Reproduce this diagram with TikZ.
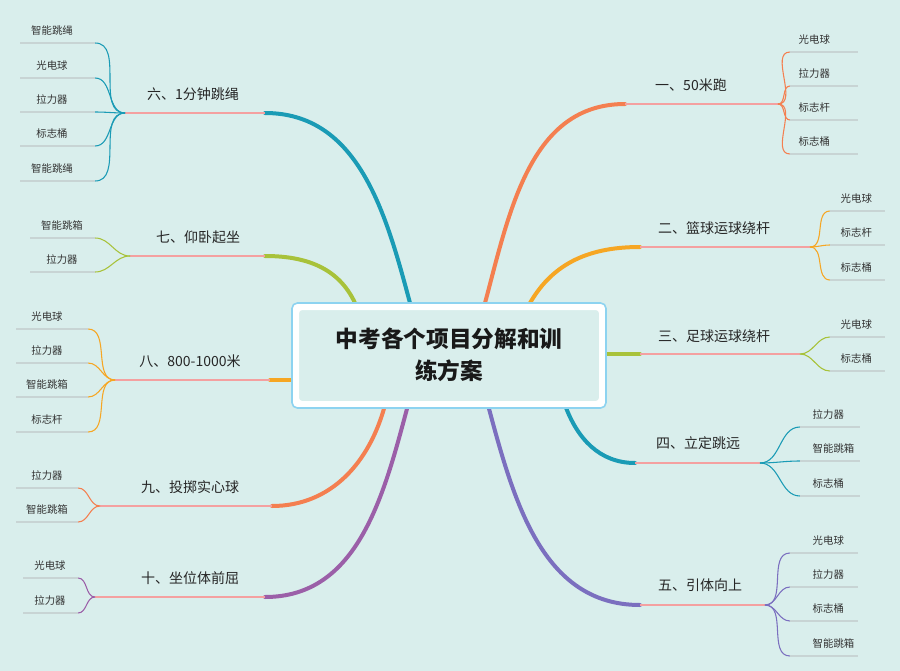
\documentclass[tikz,border=0pt]{standalone}
\usepackage{fontspec}
\setmainfont{Noto Sans CJK SC}
\usetikzlibrary{calc}
\definecolor{bg}{HTML}{D9EEEC}
\definecolor{cor}{HTML}{F47F50}
\definecolor{cyl}{HTML}{F6A623}
\definecolor{cgr}{HTML}{A8C23A}
\definecolor{ctl}{HTML}{1A9BB5}
\definecolor{cpu}{HTML}{7B6FBF}
\definecolor{cpm}{HTML}{9B5FA8}
\definecolor{pk}{HTML}{F4A0A0}
\definecolor{gl}{HTML}{C8D4D4}
\definecolor{cbord}{HTML}{8DD3F0}
\tikzset{
 trunk/.style={line width=3pt,line cap=round},
 under/.style={pk,line width=1.5pt},
 leafc/.style={line width=0.8pt},
 gline/.style={gl,line width=0.8pt},
 lab/.style={font=\fontsize{10.5}{12}\selectfont,text=black!85},
 leaf/.style={font=\fontsize{7.8}{9}\selectfont,text=black!80,anchor=west},
 leafl/.style={font=\fontsize{7.8}{9}\selectfont,text=black!80}
}
\begin{document}
\begin{tikzpicture}[x=0.75pt,y=-0.75pt]
\fill[bg] (0,0) rectangle (900,671);
\useasboundingbox (0,0) rectangle (900,671);
% ---- right side
% 1
\coordinate (s1) at (485,303); \coordinate (a1) at (625,104); \coordinate (e1) at (778,104);
\draw[trunk,cor] (s1) to[out=75,in=180] (a1);
\draw[under] (a1) -- (e1);
\node[lab] (b1) at (691,85) {一、50米跑};
\foreach \t/\y [count=\i] in {光电球/52,拉力器/86,标志杆/120,标志桶/154}{
 \coordinate (p1\i) at (790,\y);
 \draw[leafc,cor] (e1) to[out=0,in=180] (p1\i);
 \draw[gline] (p1\i) -- ++(68,0);
 \node[leaf] (n1\i) at ($(p1\i)+(4,-12)$) {\t};}
% 2
\coordinate (s2) at (530,303); \coordinate (a2) at (640,247); \coordinate (e2) at (810,247);
\draw[trunk,cyl] (s2) to[out=60,in=180] (a2);
\draw[under] (a2) -- (e2);
\node[lab] (b2) at (714,228) {二、篮球运球绕杆};
\foreach \t/\y [count=\i] in {光电球/211,标志杆/245,标志桶/280}{
 \coordinate (p2\i) at (830,\y);
 \draw[leafc,cyl] (e2) to[out=0,in=180] (p2\i);
 \draw[gline] (p2\i) -- ++(55,0);
 \node[leaf] (n2\i) at ($(p2\i)+(6,-12)$) {\t};}
% 3
\coordinate (s3) at (600,354); \coordinate (a3) at (640,354); \coordinate (e3) at (800,354);
\draw[trunk,cgr] (s3) -- (a3);
\draw[under] (a3) -- (e3);
\node[lab] (b3) at (714,336) {三、足球运球绕杆};
\foreach \t/\y [count=\i] in {光电球/337,标志桶/371}{
 \coordinate (p3\i) at (830,\y);
 \draw[leafc,cgr] (e3) to[out=0,in=180] (p3\i);
 \draw[gline] (p3\i) -- ++(55,0);
 \node[leaf] (n3\i) at ($(p3\i)+(6,-12)$) {\t};}
% 4
\coordinate (s4) at (565,405); \coordinate (a4) at (635,463); \coordinate (e4) at (760,463);
\draw[trunk,ctl] (s4) to[out=-70,in=180] (a4);
\draw[under] (a4) -- (e4);
\node[lab] (b4) at (698,443) {四、立定跳远};
\foreach \t/\y [count=\i] in {拉力器/427,智能跳箱/461,标志桶/496}{
 \coordinate (p4\i) at (800,\y);
 \draw[leafc,ctl] (e4) to[out=0,in=180] (p4\i);
 \draw[gline] (p4\i) -- ++(60,0);
 \node[leaf] (n4\i) at ($(p4\i)+(8,-12)$) {\t};}
% 5
\coordinate (s5) at (488,405); \coordinate (a5) at (640,605); \coordinate (e5) at (765,605);
\draw[trunk,cpu] (s5) to[out=-75,in=180] (a5);
\draw[under] (a5) -- (e5);
\node[lab] (b5) at (700,585) {五、引体向上};
\foreach \t/\y [count=\i] in {光电球/553,拉力器/587,标志桶/621,智能跳箱/656}{
 \coordinate (p5\i) at (790,\y);
 \draw[leafc,cpu] (e5) to[out=0,in=180] (p5\i);
 \draw[gline] (p5\i) -- ++(68,0);
 \node[leaf] (n5\i) at ($(p5\i)+(18,-12)$) {\t};}
% ---- left side
% 6
\coordinate (s6) at (410,303); \coordinate (a6) at (265,113); \coordinate (e6) at (125,113);
\draw[trunk,ctl] (s6) to[out=105,in=0] (a6);
\draw[under] (a6) -- (e6);
\node[lab] (b6) at (193,94) {六、1分钟跳绳};
\foreach \t/\y [count=\i] in {智能跳绳/43,光电球/78,拉力器/112,标志桶/146,智能跳绳/181}{
 \coordinate (p6\i) at (95,\y);
 \draw[leafc,ctl] (e6) to[out=180,in=0] (p6\i);
 \draw[gline] (p6\i) -- ++(-75,0);
 \node[leafl] (n6\i) at ($(p6\i)+(-43,-12)$) {\t};}
% 7
\coordinate (s7) at (355,303); \coordinate (a7) at (265,256); \coordinate (e7) at (130,256);
\draw[trunk,cgr] (s7) to[out=115,in=0] (a7);
\draw[under] (a7) -- (e7);
\node[lab] (b7) at (198,237) {七、仰卧起坐};
\foreach \t/\y [count=\i] in {智能跳箱/238,拉力器/272}{
 \coordinate (p7\i) at (95,\y);
 \draw[leafc,cgr] (e7) to[out=180,in=0] (p7\i);
 \draw[gline] (p7\i) -- ++(-65,0);
 \node[leafl] (n7\i) at ($(p7\i)+(-33,-12)$) {\t};}
% 8
\coordinate (s8) at (295,380); \coordinate (a8) at (270,380); \coordinate (e8) at (115,380);
\draw[trunk,cyl] (s8) -- (a8);
\draw[under] (a8) -- (e8);
\node[lab] (b8) at (190,361) {八、800-1000米};
\foreach \t/\y [count=\i] in {光电球/329,拉力器/363,智能跳箱/397,标志杆/432}{
 \coordinate (p8\i) at (88,\y);
 \draw[leafc,cyl] (e8) to[out=180,in=0] (p8\i);
 \draw[gline] (p8\i) -- ++(-72,0);
 \node[leafl] (n8\i) at ($(p8\i)+(-41,-12)$) {\t};}
% 9
\coordinate (s9) at (385,405); \coordinate (a9) at (272,506); \coordinate (e9) at (100,506);
\draw[trunk,cor] (s9) to[out=-105,in=0] (a9);
\draw[under] (a9) -- (e9);
\node[lab] (b9) at (190,487) {九、投掷实心球};
\foreach \t/\y [count=\i] in {拉力器/488,智能跳箱/522}{
 \coordinate (p9\i) at (78,\y);
 \draw[leafc,cor] (e9) to[out=180,in=0] (p9\i);
 \draw[gline] (p9\i) -- ++(-62,0);
 \node[leafl] (n9\i) at ($(p9\i)+(-31,-12)$) {\t};}
% 10
\coordinate (s10) at (408,405); \coordinate (a10) at (265,597); \coordinate (e10) at (95,597);
\draw[trunk,cpm] (s10) to[out=-105,in=0] (a10);
\draw[under] (a10) -- (e10);
\node[lab] (b10) at (190,578) {十、坐位体前屈};
\foreach \t/\y [count=\i] in {光电球/578,拉力器/613}{
 \coordinate (p10\i) at (78,\y);
 \draw[leafc,cpm] (e10) to[out=180,in=0] (p10\i);
 \draw[gline] (p10\i) -- ++(-55,0);
 \node[leafl] (n10\i) at ($(p10\i)+(-28,-12)$) {\t};}
% ---- centre
\draw[fill=white,draw=cbord,line width=1.2pt,rounded corners=4pt] (292,303) rectangle (606,408);
\draw[fill=bg,draw=white,line width=1.5pt,rounded corners=3pt] (298,309) rectangle (600,402);
\node[font=\fontsize{17}{24}\selectfont\bfseries,align=center,text=black!90] (c) at (449,355) {中考各个项目分解和训\\练方案};
\end{tikzpicture}
\end{document}
